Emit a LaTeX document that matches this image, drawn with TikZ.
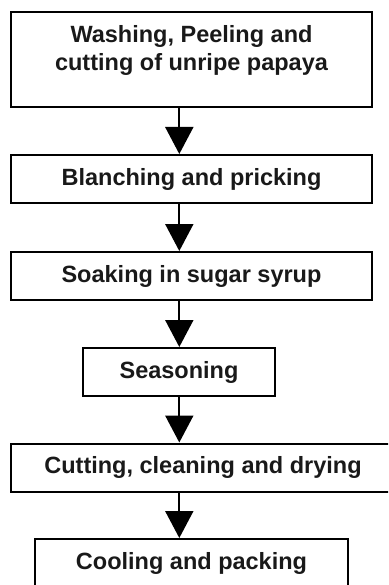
\documentclass[tikz,border=0pt]{standalone}
\usepackage{fontspec}
\setmainfont{Liberation Sans}
\usetikzlibrary{arrows.meta}
\tikzset{
  stepbox/.style={draw=black, line width=2pt, inner sep=0pt, minimum height=48pt,
    font=\bfseries\fontsize{23.5pt}{28pt}\selectfont, text=black!90},
  arr/.style={line width=2pt, -{Triangle[width=28pt,length=27pt]}}
}
\begin{document}
\begin{tikzpicture}[x=1pt,y=-1pt]
\path[use as bounding box, clip] (0,0) rectangle (388,585);
\node[stepbox, minimum width=361pt, minimum height=95pt] (b1) at (191.5,59.5) {};
\node[font=\bfseries\fontsize{23.5pt}{28pt}\selectfont, text=black!90, align=center, anchor=base, inner sep=0pt] (t1) at (191.5,71) {Washing, Peeling and\\cutting of unripe papaya};
\node[stepbox, minimum width=361pt] (b2) at (191.5,179) {Blanching and pricking};
\node[stepbox, minimum width=361pt] (b3) at (191.5,276) {Soaking in sugar syrup};
\node[stepbox, minimum width=192pt] (b4) at (179,372) {Seasoning};
\node[stepbox, minimum width=384pt] (b5) at (203,467.5) {Cutting, cleaning and drying};
\node[stepbox, minimum width=313pt] (b6) at (191.5,563) {Cooling and packing};
\coordinate (ax) at (179.3,0);
\draw[arr] (b1.south -| ax) -- (b2.north -| ax);
\draw[arr] (b2.south -| ax) -- (b3.north -| ax);
\draw[arr] (b3.south -| ax) -- (b4.north -| ax);
\draw[arr] (b4.south -| ax) -- (b5.north -| ax);
\draw[arr] (b5.south -| ax) -- (b6.north -| ax);
\end{tikzpicture}
\end{document}
